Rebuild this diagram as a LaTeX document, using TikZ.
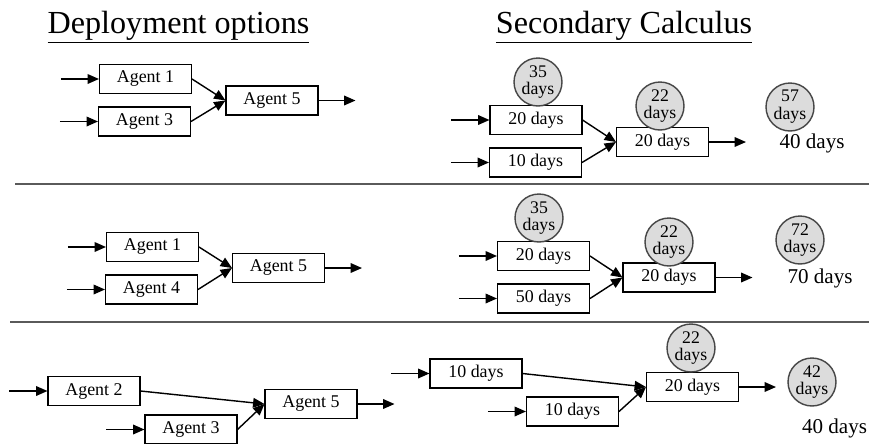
\documentclass[tikz,border=0pt]{standalone}
\usepackage{fontspec}
\setmainfont{Liberation Serif}
\usepackage{tikz}
\usetikzlibrary{shapes,arrows,arrows.meta,positioning}
\definecolor{circlefill}{RGB}{220,220,220}
\definecolor{circleline}{RGB}{70,70,70}
\definecolor{ruleline}{RGB}{90,90,90}
\tikzstyle{block} = [rectangle, draw, semithick, fill=white,
    minimum width=1.84cm, minimum height=0.58cm, inner sep=1pt,
    font=\fontsize{10.2}{11}\selectfont]
\tikzstyle{bubble} = [circle, draw=circleline, thick, fill=circlefill,
    minimum size=0.96cm, inner sep=0pt, align=center,
    font=\fontsize{10.1}{10.2}\selectfont]
\tikzstyle{result} = [font=\fontsize{12}{13}\selectfont]
\tikzstyle{heading} = [anchor=base, font=\fontsize{18.3}{20}\selectfont]
\tikzstyle{line} = [draw, thick, -{Triangle[length=6.5pt,width=5.5pt]}]

\begin{document}
\begin{tikzpicture}[x=0.02cm, y=-0.02cm, node distance = 0.76cm]
    \useasboundingbox (0,0) rectangle (869,443);

    % Headings
    \node [heading] (DeployTitle) at (178.5,33) {\underline{Deployment options}};
    \node [heading] (CalcTitle) at (624,33) {\underline{Secondary Calculus}};

    % Separators
    \draw [ruleline, line width=1.1pt] (15,184) -- (869,184);
    \draw [ruleline, line width=1.1pt] (10,322) -- (869,322);

    % Place nodes, first option
    \node [block] (AgentOneA) at (145.5,79) {Agent 1};
    \node [block] (AgentThreeA) at (144.5,121.5) {Agent 3};
    \node [block] (AgentFiveA) at (272,100.5) {Agent 5};
    \node [block] (TwentyA) at (536,120) {20 days};
    \node [block] (TenA) at (535.5,162.5) {10 days};
    \node [block] (MergeA) at (662.5,142) {20 days};
    \node [bubble] (BubbleA1) at (538,82) {35\\days};
    \node [bubble] (BubbleA2) at (660,106) {22\\days};
    \node [bubble] (BubbleA3) at (790,107) {57\\days};
    \node [result] (TotalA) at (812,143) {40 days};

    % Place nodes, second option
    \node [block] (AgentOneB) at (152.5,247) {Agent 1};
    \node [block] (AgentFourB) at (151.5,289.5) {Agent 4};
    \node [block] (AgentFiveB) at (278.5,268) {Agent 5};
    \node [block] (TwentyB) at (543.5,256) {20 days};
    \node [block] (FiftyB) at (543.5,298.5) {50 days};
    \node [block] (MergeB) at (669,277.5) {20 days};
    \node [bubble] (BubbleB1) at (539,218) {35\\days};
    \node [bubble] (BubbleB2) at (669,242) {22\\days};
    \node [bubble] (BubbleB3) at (800,240) {72\\days};
    \node [result] (TotalB) at (820,278) {70 days};

    % Place nodes, third option
    \node [block] (AgentTwoC) at (94,391) {Agent 2};
    \node [block] (AgentThreeC) at (191,429.5) {Agent 3};
    \node [block] (AgentFiveC) at (311,404) {Agent 5};
    \node [block] (TenC) at (476,373.5) {10 days};
    \node [block] (TenCC) at (572.5,411.5) {10 days};
    \node [block] (MergeC) at (692.5,387) {20 days};
    \node [bubble] (BubbleC1) at (691,348) {22\\days};
    \node [bubble] (BubbleC2) at (812,382) {42\\days};
    \node [result] (TotalC) at (834.5,428) {40 days};

    % Free ends
    \foreach \n in {AgentOneA,AgentThreeA,TwentyA,TenA,AgentOneB,AgentFourB,TwentyB,FiftyB,AgentTwoC,AgentThreeC,TenC,TenCC}
        \coordinate [left=of \n] (\n-in);
    \foreach \n in {AgentFiveA,MergeA,AgentFiveB,MergeB,AgentFiveC,MergeC}
        \coordinate [right=0.74cm of \n] (\n-out);

    % Connectors
    \foreach \n in {AgentOneA,AgentThreeA,TwentyA,TenA,AgentOneB,AgentFourB,TwentyB,FiftyB,AgentTwoC,AgentThreeC,TenC,TenCC}
        \path [line] (\n-in) -- (\n);
    \foreach \n in {AgentFiveA,MergeA,AgentFiveB,MergeB,AgentFiveC,MergeC}
        \path [line] (\n) -- (\n-out);

    \path [line] (AgentOneA.east) -- (AgentFiveA.west);
    \path [line] (AgentThreeA.east) -- (AgentFiveA.west);
    \path [line] (TwentyA.east) -- (MergeA.west);
    \path [line] (TenA.east) -- (MergeA.west);
    \path [line] (AgentOneB.east) -- (AgentFiveB.west);
    \path [line] (AgentFourB.east) -- (AgentFiveB.west);
    \path [line] (TwentyB.east) -- (MergeB.west);
    \path [line] (FiftyB.east) -- (MergeB.west);
    \path [line] (AgentTwoC.east) -- (AgentFiveC.west);
    \path [line] (AgentThreeC.east) -- (AgentFiveC.west);
    \path [line] (TenC.east) -- (MergeC.west);
    \path [line] (TenCC.east) -- (MergeC.west);

\end{tikzpicture}
\end{document}
